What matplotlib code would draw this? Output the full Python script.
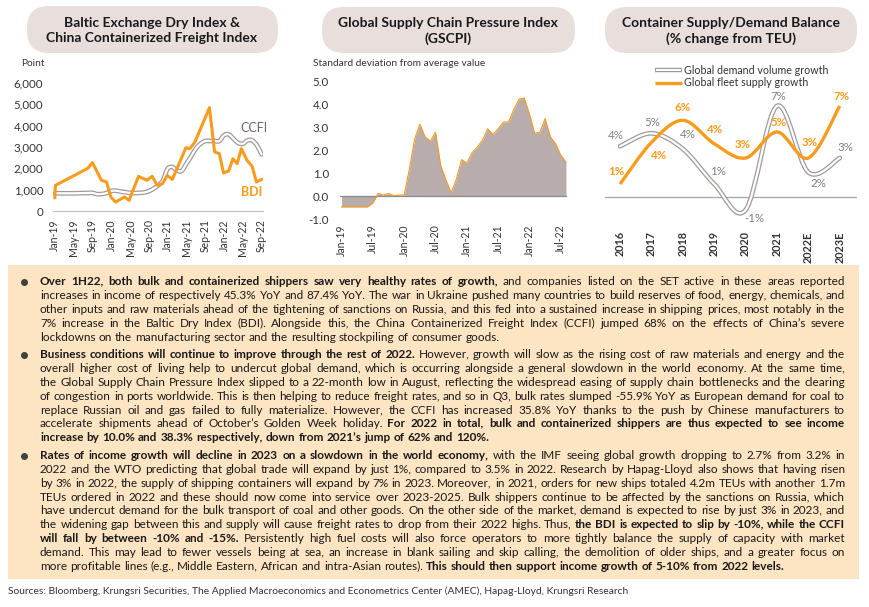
import numpy as np
import matplotlib
matplotlib.use('Agg')
import matplotlib.pyplot as plt
from matplotlib.path import Path
from matplotlib.patches import PathPatch, FancyBboxPatch
from matplotlib.font_manager import FontProperties

plt.rcParams['font.family'] = ['Lato', 'DejaVu Sans']

ORANGE = '#F99B1C'
GRAYLINE = '#A39999'
FILL = '#B8ACAC'
PILL = '#E8DEDC'
BOX = '#FDE4C2'
TXT = '#1A1A1A'
TICK = '#333333'

# ---- chart 1: BDI & CCFI (month index from Jan-19) ----
bdi_x = [0, 0.1, 7.0, 8.0, 9.9, 11.0, 11.9, 12.9, 13.9, 14.8, 15.8, 17.8, 19.6, 20.7,
         21.8, 22.9, 23.9, 25.0, 27.9, 28.7, 29.8, 32.9, 34.0, 35.0, 35.9, 37.0,
         37.9, 38.8, 39.7, 40.9, 42.0, 42.9, 44.0]
bdi_y = [625, 1200, 2000, 2270, 1440, 1360, 660, 420, 540, 660, 500, 1625, 1440, 1625,
         1200, 1280, 1670, 1480, 2970, 2920, 3230, 4840, 2770, 2690, 1780, 1875,
         2450, 2220, 2920, 2375, 2090, 1360, 1480]
ccfi_y = [830, 830, 830, 830, 830, 835, 840, 845, 850, 790, 800, 840,
          940, 950, 910, 880, 850, 840, 850, 870, 930, 1050, 1200, 1440,
          1980, 2060, 1900, 1880, 2220, 2560, 2920, 3150, 3280, 3280, 3280, 3280,
          3550, 3590, 3390, 3190, 3150, 3310, 3310, 3080, 2660]
c1_ticks = ['Jan-19', 'May-19', 'Sep-19', 'Jan-20', 'May-20', 'Sep-20', 'Jan-21',
            'May-21', 'Sep-21', 'Jan-22', 'May-22', 'Sep-22']

# ---- chart 2: GSCPI monthly Jan-19 .. Aug-22 ----
gscpi = [-0.47, -0.47, -0.47, -0.47, -0.47, -0.47, -0.30, 0.12, 0.05, 0.12, 0.02, 0.05,
         0.05, 1.2, 2.5, 3.15, 2.6, 2.4, 2.8, 1.35, 0.7, 0.15, 0.75, 1.6,
         1.45, 1.9, 2.15, 2.45, 2.95, 2.7, 2.95, 3.25, 3.25, 3.8, 4.25, 4.3,
         3.6, 2.75, 2.8, 3.4, 2.6, 2.3, 1.8, 1.5]
c2_ticks = ['Jan-19', 'Jul-19', 'Jan-20', 'Jul-20', 'Jan-21', 'Jul-21', 'Jan-22', 'Jul-22']

# ---- chart 3: container supply / demand ----
years = ['2016', '2017', '2018', '2019', '2020', '2021', '2022E', '2023E']
demand = [3.9, 4.9, 3.7, 1.0, -1.0, 7.0, 1.9, 3.0]
supply = [1.0, 4.2, 5.9, 4.1, 3.0, 5.0, 3.0, 7.0]
demand_lbl = ['4%', '5%', '4%', '1%', '-1%', '7%', '2%', '3%']
supply_lbl = ['1%', '4%', '6%', '4%', '3%', '5%', '3%', '7%']
demand_off = [(-4, 11), (1, 11), (5, 14), (4, 12), (9, -9), (1, 10), (10, -11), (6, 10)]
supply_off = [(-4, 12), (8, -13), (0, 13), (1, 14), (-3, 13), (2, 9), (1, 15), (2, 10)]


def smooth_path(x, y):
    pts = np.column_stack([x, y]).astype(float)
    n = len(pts)
    verts = [pts[0]]
    codes = [Path.MOVETO]
    for i in range(n - 1):
        p0 = pts[i - 1] if i > 0 else pts[i]
        p1 = pts[i]
        p2 = pts[i + 1]
        p3 = pts[i + 2] if i + 2 < n else pts[i + 1]
        verts += [p1 + (p2 - p0) / 6, p2 - (p3 - p1) / 6, p2]
        codes += [Path.CURVE4] * 3
    return Path(verts, codes)


def double_line(ax, path, z):
    ax.add_patch(PathPatch(path, fill=False, ec=GRAYLINE, lw=3.4, zorder=z, capstyle='round'))
    ax.add_patch(PathPatch(path, fill=False, ec='white', lw=1.6, zorder=z + 0.1, capstyle='round'))


W, H = 870, 607
fig = plt.figure(figsize=(W / 100, H / 100), dpi=100)

# background / text layer in pixel coordinates
bg = fig.add_axes([0, 0, 1, 1], zorder=0)
bg.set_xlim(0, W)
bg.set_ylim(H, 0)
bg.axis('off')


def px_axes(x0, y0, x1, y1):
    ax = fig.add_axes([x0 / W, 1 - y1 / H, (x1 - x0) / W, (y1 - y0) / H], zorder=2)
    ax.set_facecolor('none')
    for s in ax.spines.values():
        s.set_visible(False)
    ax.tick_params(length=0, colors=TICK)
    return ax


# title pills
pills = [((27, 6, 251, 47), 152, 'Baltic Exchange Dry Index &\nChina Containerized Freight Index'),
         ((322, 7, 253, 46), 448, 'Global Supply Chain Pressure Index\n(GSCPI)'),
         ((605, 7, 252, 46), 731, 'Container Supply/Demand Balance\n(% change from TEU)')]
for (x0, y0, w, h), cx, t in pills:
    bg.add_patch(FancyBboxPatch((x0, y0), w, h, boxstyle='round,pad=0,rounding_size=22',
                                fc=PILL, ec='none'))
    bg.text(cx, y0 + h / 2 + 1, t, ha='center', va='center', fontsize=10, fontweight='bold',
            color=TXT, linespacing=1.3)

# chart 1
ax1 = px_axes(53, 83, 263, 211)
double_line(ax1, smooth_path(np.arange(len(ccfi_y)), ccfi_y), 3)
ax1.plot(bdi_x, bdi_y, color=ORANGE, lw=2.2, zorder=4, solid_joinstyle='round')
ax1.set_xlim(-0.4, 44.3)
ax1.set_ylim(0, 6000)
ax1.set_yticks(range(0, 6001, 1000))
ax1.set_yticklabels([f'{v:,}' for v in range(0, 6001, 1000)], fontsize=8.3)
ax1.set_xticks(range(0, 45, 4))
ax1.set_xticklabels(c1_ticks, rotation=90, fontsize=7.6)
ax1.tick_params(axis='x', pad=6)
ax1.tick_params(axis='y', pad=7)
ax1.spines['bottom'].set_visible(True)
ax1.spines['bottom'].set_color('#BFBFBF')
ax1.text(39.4, 3890, 'CCFI', color='#6F6565', fontsize=9, va='center')
ax1.text(39.6, 890, 'BDI', color=ORANGE, fontsize=9, fontweight='bold', va='center')
bg.text(21, 64, 'Point', fontsize=7.3, color=TICK, va='center')

# chart 2
ax2 = px_axes(340, 82, 567, 219)
gx = np.arange(len(gscpi))
ax2.fill_between(gx, gscpi, 0, color=FILL, lw=0, zorder=2)
ax2.plot(gx, gscpi, color=ORANGE, lw=0.8, zorder=3)
ax2.axhline(0, color='#8C8C8C', lw=0.9, zorder=2.5)
ax2.set_xlim(-0.3, 43.2)
ax2.set_ylim(-1, 5)
ax2.set_yticks(np.arange(-1, 5.1, 1))
ax2.set_yticklabels([f'{v:.1f}' for v in np.arange(-1, 5.1, 1)], fontsize=8.3)
ax2.set_xticks(range(0, 43, 6))
ax2.set_xticklabels(c2_ticks, rotation=90, fontsize=7.6)
ax2.tick_params(axis='x', pad=4)
ax2.tick_params(axis='y', pad=8)
bg.text(313, 64, 'Standard deviation from average value', fontsize=7.3, color=TICK, va='center')

# chart 3
ax3 = px_axes(605, 99.5, 857, 223)
yx = np.arange(len(years))
ax3.axhline(0, color='#A6A6A6', lw=0.9, zorder=1)
double_line(ax3, smooth_path(yx, demand), 3)
ax3.add_patch(PathPatch(smooth_path(yx, supply), fill=False, ec=ORANGE, lw=2.4, zorder=4))
for i in range(len(years)):
    ax3.annotate(demand_lbl[i], (yx[i], demand[i]), xytext=demand_off[i],
                 textcoords='offset pixels', ha='center', va='center', fontsize=8.3, color='#7F7F7F')
    ax3.annotate(supply_lbl[i], (yx[i], supply[i]), xytext=supply_off[i],
                 textcoords='offset pixels', ha='center', va='center', fontsize=8.3,
                 color=ORANGE, fontweight='bold')
ax3.set_xlim(-0.48, 7.55)
ax3.set_ylim(-2, 7.5)
ax3.set_yticks([])
ax3.set_xticks(yx)
ax3.set_xticklabels(years, rotation=90, fontsize=7.8, fontweight='bold')
ax3.tick_params(axis='x', pad=6)

# legend for chart 3
bg.plot([655, 682], [70, 70], color=GRAYLINE, lw=3.2, solid_capstyle='butt')
bg.plot([656, 681], [70, 70], color='white', lw=1.4, solid_capstyle='butt')
bg.plot([655, 682], [83, 83], color=ORANGE, lw=2.4, solid_capstyle='butt')
bg.text(684, 70, 'Global demand volume growth', fontsize=7.7, color=TICK, va='center')
bg.text(684, 83, 'Global fleet supply growth', fontsize=7.7, color=TICK, va='center')

# text box
bg.add_patch(plt.Rectangle((8, 265), 851, 314, fc=BOX, ec='none'))

paras = [
    [[("Over 1H22, both bulk and containerized shippers saw very healthy rates of growth,", 1),
      (" and companies listed on the SET active in these areas reported", 0)],
     [("increases in income of respectively 45.3% YoY and 87.4% YoY. The war in Ukraine pushed many countries to build reserves of food, energy, chemicals, and", 0)],
     [("other inputs and raw materials ahead of the tightening of sanctions on Russia, and this fed into a sustained increase in shipping prices, most notably in the", 0)],
     [("7% increase in the Baltic Dry Index (BDI). Alongside this, the China Containerized Freight Index (CCFI) jumped 68% on the effects of China\u2019s severe", 0)],
     [("lockdowns on the manufacturing sector and the resulting stockpiling of consumer goods.", 0)]],
    [[("Business conditions will continue to improve through the rest of 2022.", 1),
      (" However, growth will slow as the rising cost of raw materials and energy and the", 0)],
     [("overall higher cost of living help to undercut global demand, which is occurring alongside a general slowdown in the world economy. At the same time,", 0)],
     [("the Global Supply Chain Pressure Index slipped to a 22-month low in August, reflecting the widespread easing of supply chain bottlenecks and the clearing", 0)],
     [("of congestion in ports worldwide. This is then helping to reduce freight rates, and so in Q3, bulk rates slumped -55.9% YoY as European demand for coal to", 0)],
     [("replace Russian oil and gas failed to fully materialize. However, the CCFI has increased 35.8% YoY thanks to the push by Chinese manufacturers to", 0)],
     [("accelerate shipments ahead of October\u2019s Golden Week holiday.", 0),
      (" For 2022 in total, bulk and containerized shippers are thus expected to see income", 1)],
     [("increase by 10.0% and 38.3% respectively, down from 2021\u2019s jump of 62% and 120%.", 1)]],
    [[("Rates of income growth will decline in 2023 on a slowdown in the world economy,", 1),
      (" with the IMF seeing global growth dropping to 2.7% from 3.2% in", 0)],
     [("2022 and the WTO predicting that global trade will expand by just 1%, compared to 3.5% in 2022. Research by Hapag-Lloyd also shows that having risen", 0)],
     [("by 3% in 2022, the supply of shipping containers will expand by 7% in 2023. Moreover, in 2021, orders for new ships totaled 4.2m TEUs with another 1.7m", 0)],
     [("TEUs ordered in 2022 and these should now come into service over 2023-2025. Bulk shippers continue to be affected by the sanctions on Russia, which", 0)],
     [("have undercut demand for the bulk transport of coal and other goods. On the other side of the market, demand is expected to rise by just 3% in 2023, and", 0)],
     [("the widening gap between this and supply will cause freight rates to drop from their 2022 highs. Thus,", 0),
      (" the BDI is expected to slip by -10%, while the CCFI", 1)],
     [("will fall by between -10% and -15%.", 1),
      (" Persistently high fuel costs will also force operators to more tightly balance the supply of capacity with market", 0)],
     [("demand. This may lead to fewer vessels being at sea, an increase in blank sailing and skip calling, the demolition of older ships, and a greater focus on", 0)],
     [("more profitable lines (e.g., Middle Eastern, African and intra-Asian routes).", 0),
      (" This should then support income growth of 5-10% from 2022 levels.", 1)]],
]

renderer = fig.canvas.get_renderer()


def fprop(bold, fs):
    return FontProperties(family=['Lato', 'DejaVu Sans'], size=fs, weight='bold' if bold else 'normal')


def metrics(s, bold, fs):
    return renderer.get_text_width_height_descent(s, fprop(bold, fs), ismath=False)


def tw(s, bold, fs):
    return metrics(s, bold, fs)[0]


X0, X1 = 40, 845


def line_words(line):
    return [(w, b) for s, b in line for w in s.split()]


def natural(line, fs):
    words = line_words(line)
    sp = tw('a a', 0, fs) - tw('aa', 0, fs)
    return sum(tw(w, b, fs) for w, b in words) + sp * (len(words) - 1)


fs0 = 10
full = [ln for p in paras for ln in p[:-1]]
fs = fs0 * (X1 - X0) / max(natural(ln, fs0) for ln in full) * 0.995

y = 281.7 + 3.5
for p in paras:
    B = round(y)
    bg.plot(24, B - 3.5, 'o', ms=4, color='#404040')
    for k, ln in enumerate(p):
        B = round(y)
        words = line_words(ln)
        widths = [tw(w, b, fs) for w, b in words]
        if k < len(p) - 1:
            gap = (X1 - X0 - sum(widths)) / (len(words) - 1)
        else:
            gap = tw('a a', 0, fs) - tw('aa', 0, fs)
        x = X0
        for (w, b), wd in zip(words, widths):
            # Agg rounds the bitmap position, so line up every word on a whole-pixel baseline
            _, hh, dd = metrics(w, b, fs)
            yw = B + np.floor(hh) - np.floor(hh - dd) - dd
            bg.text(x, yw, w, fontsize=fs, fontweight='bold' if b else 'normal',
                    color=TXT, va='baseline', ha='left')
            x += wd + gap
        y += 13.83
    y += 4

bg.text(8, 591, 'Sources: Bloomberg, Krungsri Securities, The Applied Macroeconomics and Econometrics Center (AMEC), Hapag-Lloyd, Krungsri Research',
        fontsize=7.4, color=TICK, va='center')

fig.savefig('out.png', dpi=100)
